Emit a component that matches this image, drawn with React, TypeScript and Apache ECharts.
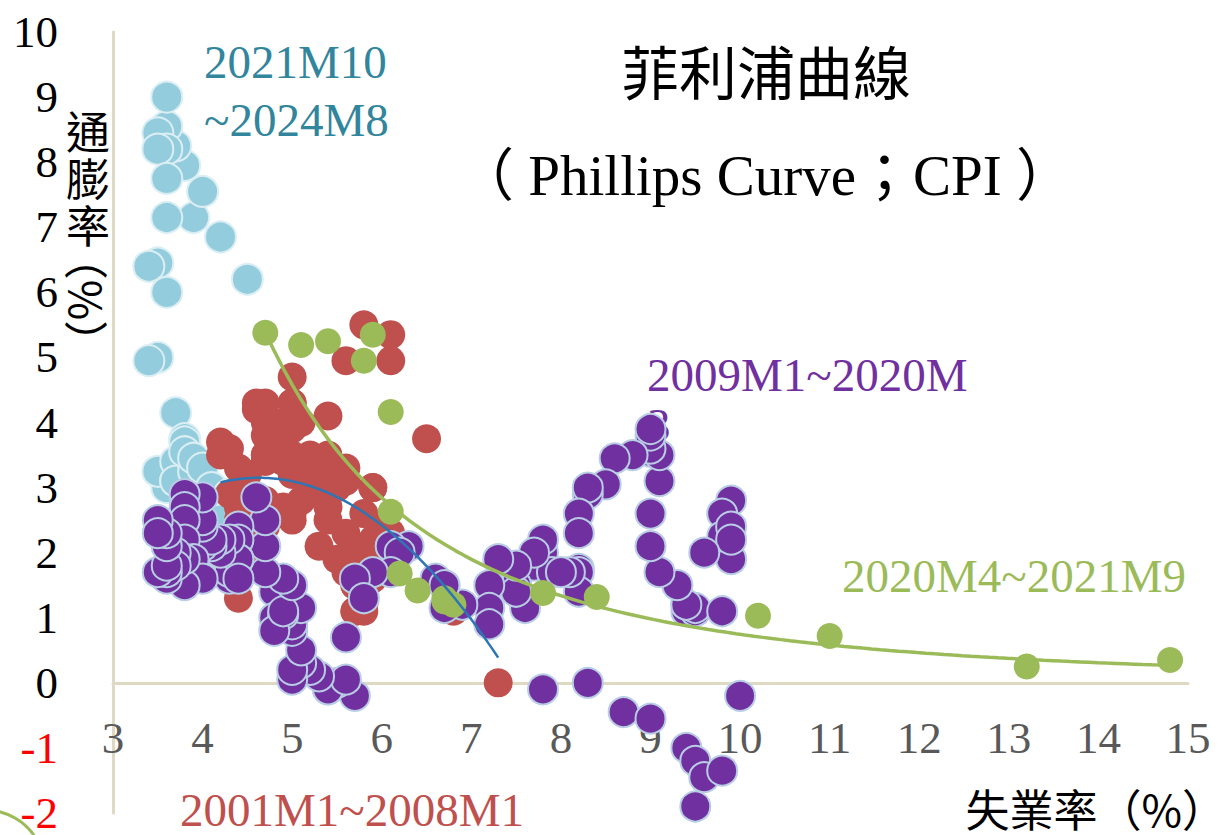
import React, { useEffect, useRef } from "react";
import * as echarts from "echarts";

// ---- Data (unemployment %, CPI inflation %) ----
// 2021M10 ~ 2024M8 (light blue)
const lbUnemp = [4.5, 4.2, 3.9, 4.0, 3.8, 3.6, 3.7, 3.6, 3.6, 3.5, 3.6, 3.5, 3.6, 3.6, 3.5, 3.4, 3.6, 3.5, 3.4, 3.7, 3.6, 3.5, 3.8, 3.8, 3.85, 3.7, 3.7, 3.7, 3.9, 3.8, 3.9, 4.0, 4.1, 4.3, 4.2];
const lbCpi = [6.2, 6.85, 7.15, 7.55, 7.95, 8.45, 8.25, 8.55, 9.0, 8.45, 8.2, 8.2, 7.75, 7.15, 6.45, 6.4, 6.0, 5.0, 4.95, 4.15, 3.0, 3.25, 3.75, 3.7, 3.15, 3.1, 3.4, 3.1, 3.25, 3.55, 3.45, 3.3, 3.0, 2.9, 2.5];

// 2001M1 ~ 2008M1 (red)
const redUnemp = [
  4.2, 4.2, 4.3, 4.4, 4.3, 4.5, 4.6, 4.9, 5.0, 5.3, 5.5, 5.7,
  5.7, 5.7, 5.7, 5.9, 5.8, 5.8, 5.8, 5.7, 5.7, 5.7, 5.9, 6.0,
  5.8, 5.9, 5.9, 6.0, 6.1, 6.3, 6.2, 6.1, 6.1, 6.0, 5.8, 5.7,
  5.7, 5.6, 5.8, 5.6, 5.6, 5.6, 5.5, 5.4, 5.4, 5.5, 5.4, 5.4,
  5.3, 5.4, 5.2, 5.2, 5.1, 5.0, 5.0, 4.9, 5.0, 5.0, 5.0, 4.9,
  4.7, 4.8, 4.7, 4.7, 4.6, 4.6, 4.7, 4.7, 4.5, 4.4, 4.5, 4.4,
  4.6, 4.5, 4.4, 4.5, 4.4, 4.6, 4.7, 4.6, 4.7, 4.7, 4.7, 5.0,
  5.0, 4.9, 5.1, 5.0, 5.4, 5.6, 5.8, 6.1, 6.1, 6.5, 6.8, 7.3,
];
const redCpi = [
  3.7, 3.5, 2.9, 3.3, 3.6, 3.2, 2.7, 2.7, 2.6, 2.1, 1.9, 1.6,
  1.1, 1.1, 1.5, 1.6, 1.2, 1.1, 1.5, 1.8, 1.5, 2.0, 2.2, 2.4,
  2.6, 3.0, 3.0, 2.2, 2.1, 2.1, 2.1, 2.2, 2.3, 2.0, 1.8, 1.9,
  1.9, 1.7, 1.7, 2.3, 3.1, 3.3, 3.0, 2.7, 2.5, 3.2, 3.5, 3.3,
  3.0, 3.0, 3.1, 3.5, 2.8, 2.5, 3.2, 3.6, 4.7, 4.3, 3.5, 3.4,
  4.0, 3.6, 3.4, 3.5, 4.2, 4.3, 4.1, 3.8, 2.1, 1.3, 2.0, 2.5,
  2.1, 2.4, 2.8, 2.6, 2.7, 2.7, 2.4, 2.0, 2.8, 3.5, 4.3, 4.1,
  4.3, 4.0, 4.0, 3.9, 4.1, 4.95, 5.5, 5.35, 4.95, 3.75, 1.1, 0.0,
];

// 2009M1 ~ 2020M3 (purple)
const purUnemp = [
  7.8, 8.3, 8.7, 9.0, 9.4, 9.5, 9.5, 9.6, 9.8, 10.0, 9.9, 9.9,
  9.8, 9.8, 9.9, 9.9, 9.6, 9.4, 9.4, 9.5, 9.5, 9.4, 9.8, 9.3,
  9.1, 9.0, 9.0, 9.1, 9.0, 9.1, 9.0, 9.0, 9.0, 8.8, 8.6, 8.5,
  8.3, 8.3, 8.2, 8.2, 8.2, 8.2, 8.2, 8.1, 7.8, 7.8, 7.7, 7.9,
  8.0, 7.7, 7.5, 7.6, 7.5, 7.5, 7.3, 7.2, 7.2, 7.2, 6.9, 6.7,
  6.6, 6.7, 6.7, 6.2, 6.3, 6.1, 6.2, 6.1, 5.9, 5.7, 5.8, 5.6,
  5.7, 5.5, 5.4, 5.4, 5.6, 5.3, 5.2, 5.1, 5.0, 5.0, 5.1, 5.0,
  4.8, 4.9, 5.0, 5.1, 4.8, 4.9, 4.8, 4.9, 5.0, 4.9, 4.7, 4.7,
  4.7, 4.6, 4.4, 4.4, 4.4, 4.3, 4.3, 4.4, 4.3, 4.2, 4.2, 4.1,
  4.0, 4.1, 4.0, 4.0, 3.8, 4.0, 3.8, 3.8, 3.7, 3.8, 3.8, 3.9,
  4.0, 3.8, 3.8, 3.7, 3.6, 3.6, 3.7, 3.6, 3.5, 3.6, 3.6, 3.6,
  3.5, 3.5, 4.4,
];
const purCpi = [
  -0.1, 0.0, -0.45, -0.55, -1.0, -1.2, -1.9, -1.45, -1.35, -0.2, 1.9, 2.8,
  2.6, 2.25, 2.4, 2.2, 2.0, 1.1, 1.2, 1.1, 1.15, 1.2, 1.1, 1.5,
  1.7, 2.1, 2.6, 3.1, 3.55, 3.5, 3.6, 3.8, 3.9, 3.5, 3.45, 3.05,
  2.9, 3.0, 2.6, 2.3, 1.75, 1.7, 1.4, 1.7, 2.0, 2.2, 1.8, 1.7,
  1.7, 2.0, 1.5, 1.15, 1.4, 1.8, 1.9, 1.5, 1.15, 0.9, 1.2, 1.5,
  1.6, 1.15, 1.5, 2.05, 2.1, 2.1, 2.0, 1.7, 1.7, 1.6, 1.3, 0.7,
  -0.2, 0.0, -0.1, -0.1, 0.05, 0.1, 0.2, 0.3, 0.05, 0.2, 0.5, 0.8,
  1.4, 1.0, 0.9, 1.15, 1.0, 1.05, 0.8, 1.1, 1.5, 1.6, 1.7, 2.1,
  2.5, 2.85, 2.4, 2.2, 1.9, 1.6, 1.7, 1.9, 2.2, 2.0, 2.2, 2.1,
  2.1, 2.2, 2.4, 2.5, 2.85, 2.85, 2.9, 2.7, 2.3, 2.5, 2.2, 1.9,
  1.6, 1.5, 1.9, 2.0, 1.8, 1.6, 1.8, 1.7, 1.7, 1.8, 2.1, 2.3,
  2.5, 2.3, 1.6,
];

// 2020M4 ~ 2021M9 (green)
const grnUnemp = [14.8, 13.2, 11.0, 10.2, 8.4, 7.8, 6.8, 6.7, 6.7, 6.4, 6.2, 6.1, 6.1, 5.8, 5.9, 5.4, 5.1, 4.7];
const grnCpi = [0.35, 0.25, 0.72, 1.03, 1.32, 1.38, 1.2, 1.25, 1.3, 1.42, 1.68, 2.63, 4.16, 4.95, 5.35, 5.25, 5.19, 5.38];

const xTicksMin = 3;
const xTicksMax = 15;
const yTicksMin = -2;
const yTicksMax = 10;

const zip = (a: number[], b: number[]) => a.map((v, i) => [v, b[i]]);

// Excel-style polynomial (order 2) trendline
function polyFit2(xs: number[], ys: number[]) {
  const S = [0, 0, 0, 0, 0];
  const T = [0, 0, 0];
  xs.forEach((x, i) => {
    const y = ys[i];
    for (let k = 0; k < 5; k++) S[k] += Math.pow(x, k);
    for (let k = 0; k < 3; k++) T[k] += Math.pow(x, k) * y;
  });
  const M = [
    [S[0], S[1], S[2], T[0]],
    [S[1], S[2], S[3], T[1]],
    [S[2], S[3], S[4], T[2]],
  ];
  for (let c = 0; c < 3; c++) {
    let p = c;
    for (let r = c + 1; r < 3; r++) if (Math.abs(M[r][c]) > Math.abs(M[p][c])) p = r;
    [M[c], M[p]] = [M[p], M[c]];
    for (let r = 0; r < 3; r++) {
      if (r === c) continue;
      const f = M[r][c] / M[c][c];
      for (let k = c; k < 4; k++) M[r][k] -= f * M[c][k];
    }
  }
  const coef = [M[0][3] / M[0][0], M[1][3] / M[1][1], M[2][3] / M[2][2]];
  return (x: number) => coef[0] + coef[1] * x + coef[2] * x * x;
}

// Excel-style power trendline
function powerFit(xs: number[], ys: number[]) {
  const lx = xs.map(Math.log);
  const ly = ys.map(Math.log);
  const n = xs.length;
  const mx = lx.reduce((a, b) => a + b, 0) / n;
  const my = ly.reduce((a, b) => a + b, 0) / n;
  let sxy = 0, sxx = 0;
  for (let i = 0; i < n; i++) {
    sxy += (lx[i] - mx) * (ly[i] - my);
    sxx += (lx[i] - mx) * (lx[i] - mx);
  }
  const b = sxy / sxx;
  const a = Math.exp(my - b * mx);
  return (x: number) => a * Math.pow(x, b);
}

function trend(xs: number[], f: (x: number) => number) {
  const lo = Math.min(...xs);
  const hi = Math.max(...xs);
  const pts: number[][] = [];
  const n = 100;
  for (let i = 0; i <= n; i++) {
    const x = lo + ((hi - lo) * i) / n;
    pts.push([x, f(x)]);
  }
  return pts;
}

const SERIF = "'Liberation Serif', 'Times New Roman', serif";
const CJK = "'Noto Sans CJK TC', 'Noto Sans CJK SC', sans-serif";
const MIX = "'Liberation Serif', 'Noto Sans CJK TC', serif";

export default function App() {
  const ref = useRef<HTMLDivElement>(null);

  useEffect(() => {
    document.body.style.margin = "0";
    if (!ref.current) return;
    const chart = echarts.init(ref.current, undefined, { renderer: "svg" });

    const redTrend = trend(redUnemp, polyFit2(redUnemp, redCpi));
    const grnTrend = trend(grnUnemp, powerFit(grnUnemp, grnCpi));

    chart.setOption({
      animation: false,
      backgroundColor: "#ffffff",
      grid: {
        left: 113,
        right: 40,
        top: 32,
        bottom: 22,
        containLabel: false,
        outerBoundsMode: "none",
      },
      xAxis: {
        type: "value",
        min: xTicksMin,
        max: xTicksMax,
        interval: 1,
        axisLine: { onZero: true, lineStyle: { color: "#DDD9C3", width: 3 } },
        axisTick: { show: false },
        splitLine: { show: false },
        axisLabel: { color: "#595959", fontSize: 45, fontFamily: SERIF, margin: -98 },
      },
      yAxis: {
        type: "value",
        min: yTicksMin,
        max: yTicksMax,
        interval: 1,
        axisLine: { show: true, onZero: false, lineStyle: { color: "#DDD9C3", width: 3 } },
        axisTick: { show: false },
        splitLine: { show: false },
        axisLabel: {
          fontSize: 45,
          fontFamily: SERIF,
          margin: 55,
          color: (v: any) => (Number(v) < 0 ? "#FF0000" : "#000000"),
        },
      },
      series: [
        {
          type: "scatter",
          z: 1,
          silent: true,
          symbolSize: 31,
          data: zip(lbUnemp, lbCpi),
          itemStyle: { color: "#93CDDD", borderColor: "#DBEEF4", borderWidth: 2, opacity: 1 },
        },
        {
          type: "scatter",
          z: 2,
          silent: true,
          symbolSize: 29,
          data: zip(redUnemp, redCpi),
          itemStyle: { color: "#C0504D", opacity: 1 },
        },
        {
          type: "scatter",
          z: 3,
          silent: true,
          symbolSize: 30,
          data: zip(purUnemp, purCpi),
          itemStyle: { color: "#7030A0", borderColor: "#B9CDE5", borderWidth: 2, opacity: 1 },
        },
        {
          type: "scatter",
          z: 4,
          silent: true,
          symbolSize: 26,
          data: zip(grnUnemp, grnCpi),
          itemStyle: { color: "#9BBB59", opacity: 1 },
        },
        {
          type: "line",
          z: 5,
          silent: true,
          showSymbol: false,
          symbol: "none",
          data: grnTrend,
          lineStyle: { color: "#9BBB59", width: 3.5 },
        },
        {
          type: "line",
          z: 6,
          silent: true,
          showSymbol: false,
          symbol: "none",
          data: redTrend,
          lineStyle: { color: "#2E75B6", width: 2.5 },
        },
      ],
      graphic: [
        {
          type: "text",
          z: 10,
          x: 766,
          y: 70,
          style: {
            text: "菲利浦曲線",
            font: `58px ${CJK}`,
            fill: "#000000",
            align: "center",
            verticalAlign: "middle",
          },
        },
        {
          type: "text",
          z: 10,
          x: 765,
          y: 175,
          style: {
            text: "（ Phillips Curve；CPI ）",
            font: `57px ${MIX}`,
            fill: "#000000",
            align: "center",
            verticalAlign: "middle",
          },
        },
        {
          type: "text",
          z: 10,
          x: 204,
          y: 62,
          style: { text: "2021M10", font: `47px ${SERIF}`, fill: "#31859C", verticalAlign: "middle" },
        },
        {
          type: "text",
          z: 10,
          x: 204,
          y: 120,
          style: { text: "~2024M8", font: `47px ${SERIF}`, fill: "#31859C", verticalAlign: "middle" },
        },
        {
          type: "text",
          z: 0,
          x: 647,
          y: 350,
          style: {
            text: "2009M1~2020M\n3",
            font: `47px ${SERIF}`,
            lineHeight: 50,
            fill: "#7030A0",
            verticalAlign: "top",
          },
        },
        {
          type: "text",
          z: 10,
          x: 842,
          y: 576,
          style: { text: "2020M4~2021M9", font: `47px ${SERIF}`, fill: "#9BBB59", verticalAlign: "middle" },
        },
        {
          type: "text",
          z: 10,
          x: 180,
          y: 810,
          style: { text: "2001M1~2008M1", font: `47px ${SERIF}`, fill: "#C0504D", verticalAlign: "middle" },
        },
        {
          type: "text",
          z: 10,
          x: 1226,
          y: 808,
          style: {
            text: "失業率（%）",
            font: `44px ${CJK}`,
            fill: "#000000",
            align: "right",
            verticalAlign: "middle",
          },
        },
        {
          type: "text",
          z: 10,
          x: 88,
          y: 106,
          style: {
            text: "通\n膨\n率",
            font: `44px ${CJK}`,
            lineHeight: 47,
            fill: "#000000",
            align: "center",
            verticalAlign: "top",
          },
        },
        {
          type: "text",
          z: 10,
          x: 88,
          y: 300,
          rotation: -Math.PI / 2,
          style: {
            text: "（%）",
            font: `44px ${CJK}`,
            fill: "#000000",
            align: "center",
            verticalAlign: "middle",
          },
        },
        {
          type: "circle",
          z: 10,
          shape: { cx: -15, cy: 870, r: 60 },
          style: { fill: "none", stroke: "#9BBB59", lineWidth: 3 },
        },
      ],
    });

    return () => {
      chart.dispose();
    };
  }, []);

  return <div ref={ref} style={{ width: 1228, height: 835 }} />;
}
